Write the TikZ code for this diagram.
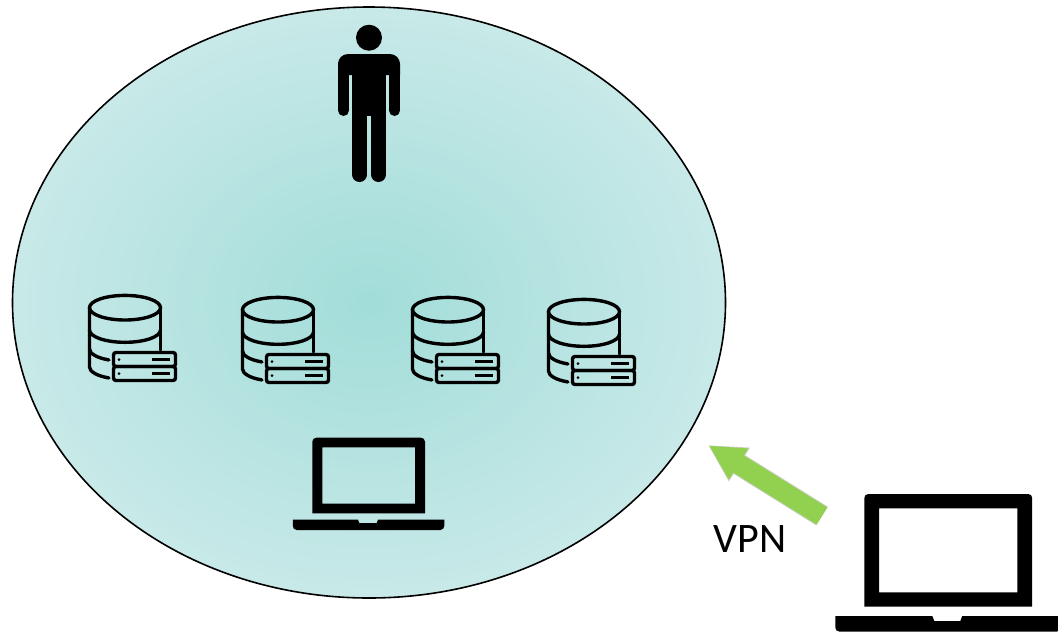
\documentclass[tikz,border=0pt]{standalone}
\usepackage{fontspec}
\usepackage{xcolor}
\setmainfont{Carlito}
\usetikzlibrary{shapes.geometric}
\usetikzlibrary{arrows.meta}
\definecolor{zoneinner}{HTML}{A2DDD9}
\definecolor{zoneouter}{HTML}{C8E9E8}
\definecolor{vpngreen}{HTML}{92D050}
\definecolor{vpnedge}{HTML}{C9CFC4}
\tikzstyle{zone}=[ellipse, draw=black, line width=1.6pt, inner sep=0pt, minimum width=713pt, minimum height=591pt, inner color=zoneinner, outer color=zoneouter]
\tikzstyle{vpnlink}=[draw=vpngreen, line width=20pt, -{Triangle[length=35pt, width=34pt]}]
\tikzstyle{vpnhalo}=[draw=vpnedge, line width=22pt, -{Triangle[length=37pt, width=37pt]}]
\tikzstyle{dbline}=[line width=3.4pt, line cap=round]
\tikzset{
    person/.pic={
        \fill (31,-16.3) circle[radius=13];
        \fill (0,21) [rounded corners=10pt] -- (0,0) -- (62,0) [sharp corners] -- (62,21) -- cycle;
        \fill (14,15) rectangle (48,62);
        \draw[line width=11pt, line cap=round] (5.5,10) -- (5.5,56.5);
        \draw[line width=11pt, line cap=round] (56.5,10) -- (56.5,56.5);
        \draw[line width=15pt, line cap=round] (21.5,40) -- (21.5,120.5);
        \draw[line width=15pt, line cap=round] (40.5,40) -- (40.5,120.5);
    },
    laptop/.pic={
        \fill[even odd rule] (0,75.6) [rounded corners=4pt] -- (0,0) -- (112.7,0) [sharp corners] -- (112.7,75.6) -- cycle
            (10,9.6) rectangle (102.7,66);
        \fill (-19.5,82) -- (45.7,82) -- (47,85.3) -- (64.4,85.3) -- (65.7,82) -- (132,82) [rounded corners=4pt] -- (132,92.3) -- (-19.5,92.3) [sharp corners] -- cycle;
    },
    database/.pic={
        \draw[dbline] (37,13.7) circle[x radius=35.5, y radius=12.3];
        \draw[dbline] (1.5,13.7) -- (1.5,73) arc[start angle=180, end angle=117, x radius=35.5, y radius=12.3];
        \draw[dbline] (72.5,13.7) -- (72.5,56);
        \draw[dbline] (1.5,36) arc[start angle=180, end angle=0, x radius=35.5, y radius=12.3];
        \draw[dbline] (1.5,55) arc[start angle=180, end angle=117, x radius=35.5, y radius=12.3];
        \draw[line width=3.4pt, rounded corners=2.5pt] (25.5,58.5) rectangle (87.5,72.5);
        \draw[line width=3.4pt, rounded corners=2.5pt] (25.5,72.5) rectangle (87.5,86.5);
        \fill (31,65.5) circle[radius=1.5];
        \fill (31,79.5) circle[radius=1.5];
        \draw[line width=3pt] (64,65.5) -- (82,65.5);
        \draw[line width=3pt] (64,79.5) -- (82,79.5);
    }
}

\begin{document}
\begin{tikzpicture}[x=1pt, y=-1pt]
    \useasboundingbox (0,0) rectangle (1058,633);

    \node[zone] (lan) at (369,302.5) {};

    \pic (user) at (338,54) {person};

    \pic (db1) at (88,294) {database};
    \pic (db2) at (241,296) {database};
    \pic (db3) at (411,296) {database};
    \pic (db4) at (547,298) {database};

    \pic (inner) at (312.3,437.7) {laptop};
    \pic[scale=1.49] (remote) at (864.3,494) {laptop};

    \coordinate (vpnstart) at (822,516);
    \coordinate (vpnend) at (708,445);
    \draw[vpnhalo] (vpnstart) to (vpnend);
    \draw[vpnlink, shorten >=1pt] (vpnstart) to (vpnend);
    \node[anchor=base, inner sep=0pt, font=\fontsize{42}{46}\selectfont] (vpn) at (750,552) {VPN};
\end{tikzpicture}
\end{document}
